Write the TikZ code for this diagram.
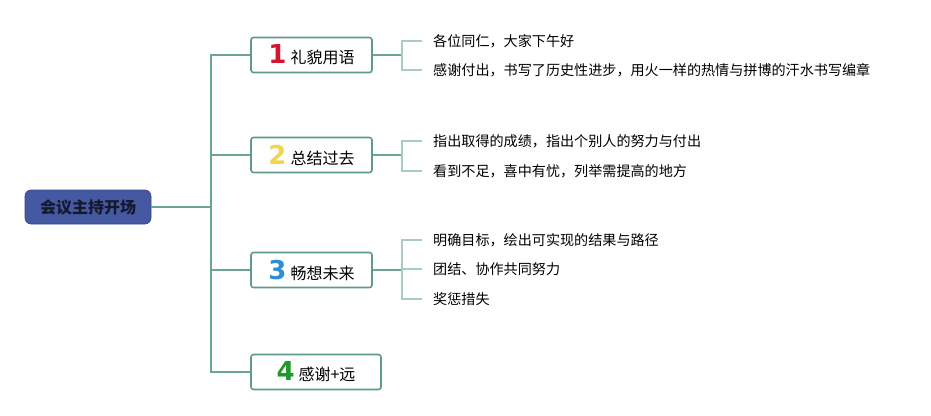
\documentclass[tikz,border=0pt]{standalone}
\usepackage{fontspec}
\newfontfamily\cjk{Noto Sans CJK SC}
\newfontfamily\numfont{DejaVu Sans}
\definecolor{mainline}{HTML}{6BA596}
\definecolor{subline}{HTML}{A9CCC2}
\definecolor{boxborder}{HTML}{5F9A8C}
\definecolor{rootfill}{HTML}{4459A2}
\definecolor{rootText}{HTML}{16182E}
\definecolor{numA}{HTML}{D5152F}
\definecolor{numB}{HTML}{F2D54A}
\definecolor{numC}{HTML}{2A8FD8}
\definecolor{numD}{HTML}{1E9A2A}
\tikzset{
  rootbox/.style={draw=rootfill!80!black, line width=0.6pt, fill=rootfill, rounded corners=6pt,
    minimum width=126pt, minimum height=34pt, inner sep=0pt, font=\cjk\fontsize{16}{16}\selectfont\bfseries, text=rootText},
  topicbox/.style={draw=boxborder, line width=1.6pt, fill=white, rounded corners=2.5pt,
    minimum height=35pt, inner sep=0pt, font=\cjk\fontsize{16}{16}\selectfont},
  leaf/.style={anchor=west, inner sep=0pt, font=\cjk\fontsize{14.1}{14.1}\selectfont, text=black},
  mainconn/.style={draw=mainline, line width=1.1pt},
  subconn/.style={draw=subline, line width=1.1pt}
}
\newcommand{\bignum}[2]{{\numfont\bfseries\fontsize{26}{26}\selectfont\color{#1}#2}\hspace{4pt}}
\begin{document}
\begin{tikzpicture}[x=1pt,y=-1pt]
\useasboundingbox (0,0) rectangle (931,415);
\node[rootbox] (root) at (88,207) {会议主持开场};
\node[topicbox, minimum width=121pt] (b1) at (311.5,55) {\bignum{numA}{1}礼貌用语};
\node[topicbox, minimum width=121pt] (b2) at (311.5,155) {\bignum{numB}{2}总结过去};
\node[topicbox, minimum width=121pt] (b3) at (311.5,270) {\bignum{numC}{3}畅想未来};
\node[topicbox, minimum width=130pt] (b4) at (316,372) {\bignum{numD}{4}感谢+远};
\coordinate (trunk) at (211,207);
\coordinate (br) at (402,0);
\coordinate (tk) at (422,0);
% leaves
\node[leaf] (l11) at (433,41) {各位同仁，大家下午好};
\node[leaf] (l12) at (433,70) {感谢付出，书写了历史性进步，用火一样的热情与拼博的汗水书写编章};
\node[leaf] (l21) at (433,141) {指出取得的成绩，指出个别人的努力与付出};
\node[leaf] (l22) at (433,171) {看到不足，喜中有忧，列举需提高的地方};
\node[leaf] (l31) at (433,240) {明确目标，绘出可实现的结果与路径};
\node[leaf] (l32) at (433,269) {团结、协作共同努力};
\node[leaf] (l33) at (433,299) {奖惩措失};
% main connectors
\draw[mainconn] (root.east) -- (root.east -| trunk);
\draw[mainconn] (b1.west) -- (b1.west -| trunk) -- (b4.west -| trunk) -- (b4.west);
\draw[mainconn] (b2.west) -- (b2.west -| trunk);
\draw[mainconn] (b3.west) -- (b3.west -| trunk);
\draw[mainconn] (b1.east) -- (b1.east -| br);
\draw[mainconn] (b2.east) -- (b2.east -| br);
\draw[mainconn] (b3.east) -- (b3.east -| br);
% brackets
\draw[subconn] (l11.west -| tk) -- (l11.west -| br) -- (l12.west -| br) -- (l12.west -| tk);
\draw[subconn] (l21.west -| tk) -- (l21.west -| br) -- (l22.west -| br) -- (l22.west -| tk);
\draw[subconn] (l31.west -| tk) -- (l31.west -| br) -- (l33.west -| br) -- (l33.west -| tk);
\draw[subconn] (l32.west -| br) -- (l32.west -| tk);
\end{tikzpicture}
\end{document}
